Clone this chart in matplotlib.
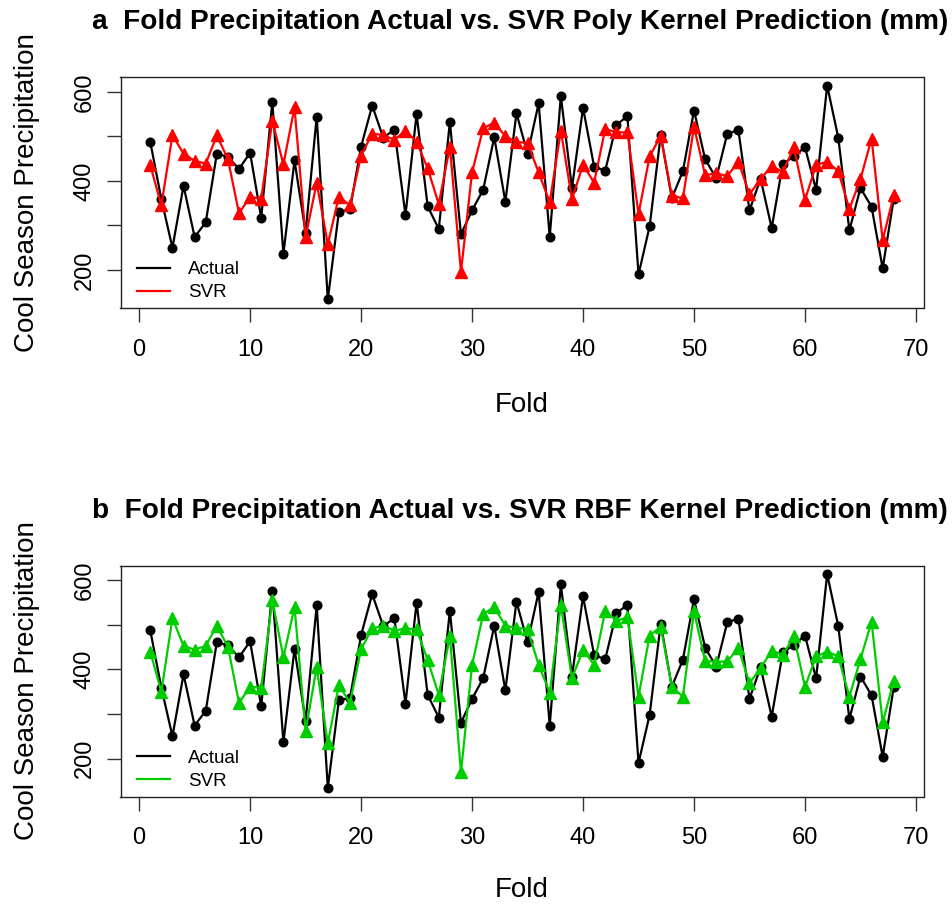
import matplotlib
matplotlib.use("Agg")
import matplotlib.pyplot as plt
import numpy as np

plt.rcParams['font.family'] = ['Liberation Sans', 'DejaVu Sans']

folds = list(range(1, 69))

actual = [488, 359, 250, 389, 274, 307, 461, 454, 427, 463,
          317, 577, 236, 446, 284, 544, 134, 331, 336, 477,
          569, 497, 515, 323, 550, 343, 292, 532, 280, 334,
          380, 498, 353, 552, 461, 574, 274, 591, 384, 564,
          432, 423, 526, 545, 190, 298, 503, 361, 422, 558,
          449, 406, 506, 514, 334, 405, 294, 438, 455, 476,
          380, 614, 497, 289, 384, 342, 204, 360]

svr_poly = [436, 345, 503, 461, 445, 439, 502, 449, 327, 365,
            359, 535, 437, 565, 274, 396, 258, 365, 345, 457,
            506, 503, 492, 513, 488, 428, 348, 477, 196, 419,
            518, 531, 500, 488, 485, 419, 352, 513, 359, 436,
            396, 517, 509, 509, 326, 455, 501, 367, 361, 522,
            413, 417, 411, 443, 370, 404, 434, 420, 475, 357,
            436, 443, 422, 337, 404, 495, 267, 368]

svr_rbf = [440, 350, 515, 453, 444, 453, 498, 451, 325, 361,
           359, 556, 427, 540, 262, 405, 234, 365, 325, 445,
           492, 498, 487, 492, 490, 421, 343, 475, 169, 410,
           524, 540, 498, 493, 491, 410, 348, 545, 380, 444,
           410, 531, 509, 517, 339, 476, 496, 361, 339, 530,
           419, 417, 418, 448, 369, 403, 442, 433, 474, 361,
           429, 440, 429, 339, 423, 507, 281, 374]

titles = ["a  Fold Precipitation Actual vs. SVR Poly Kernel Prediction (mm)",
          "b  Fold Precipitation Actual vs. SVR RBF Kernel Prediction (mm)"]
pred_colors = ["#FF0000", "#00CD00"]
xticks = [0, 10, 20, 30, 40, 50, 60, 70]
yticks = [200, 300, 400, 500, 600]
ytick_labels = ["200", "", "400", "", "600"]

W, H = 952, 906
fig = plt.figure(figsize=(W / 100, H / 100), dpi=100)

def fx(px):
    return px / W

def fy(py):
    return 1 - py / H

panels = [
    dict(top=77, bottom=308, title_y=22, xlabel_y=405, pred=svr_poly),
    dict(top=565.5, bottom=796.5, title_y=511, xlabel_y=890, pred=svr_rbf),
]
left_px, right_px = 120.5, 923.5

lo = min(min(actual), min(svr_poly), min(svr_rbf))
hi = max(max(actual), max(svr_poly), max(svr_rbf))

for i, p in enumerate(panels):
    ax = fig.add_axes([fx(left_px), fy(p['bottom']), fx(right_px - left_px),
                       (p['bottom'] - p['top']) / H])
    ax.plot(folds, actual, color='black', lw=1.6, marker='o', ms=6.2,
            label='Actual', zorder=3)
    ax.plot(folds, p['pred'], color=pred_colors[i], lw=1.6, marker='^',
            ms=8, label='SVR', zorder=4)
    span = folds[-1] - folds[0]
    ax.set_xlim(folds[0] - 0.04 * span, folds[-1] + 0.04 * span)
    yspan = hi - lo
    ax.set_ylim(lo - 0.04 * yspan, hi + 0.04 * yspan)
    ax.set_xticks(xticks)
    ax.set_yticks(yticks)
    ax.set_yticklabels(ytick_labels, rotation=90, va='center')
    ax.tick_params(axis='both', length=10, width=1, labelsize=17,
                   color='#333333')
    ax.tick_params(axis='x', pad=12)
    ax.tick_params(axis='y', pad=8)
    for s in ax.spines.values():
        s.set_linewidth(1.0)
        s.set_color('#222222')
    leg = ax.legend(loc='lower left', bbox_to_anchor=(0.02, 0.03),
                    frameon=False, fontsize=13.5, handlelength=1.8,
                    handletextpad=0.95, labelspacing=0.3, borderpad=0,
                    borderaxespad=0)
    for h in leg.legend_handles:
        h.set_marker('')
    fig.text(fx(520), fy(p['title_y']), titles[i],
             ha='center', va='center', fontsize=20.2, fontweight='bold')
    fig.text(fx((left_px + right_px) / 2), fy(p['xlabel_y']), 'Fold',
             ha='center', va='center', fontsize=20)
    fig.text(fx(27), fy((p['top'] + p['bottom']) / 2),
             'Cool Season Precipitation', ha='center', va='center',
             rotation=90, fontsize=20)

fig.savefig('out.png', dpi=100)
